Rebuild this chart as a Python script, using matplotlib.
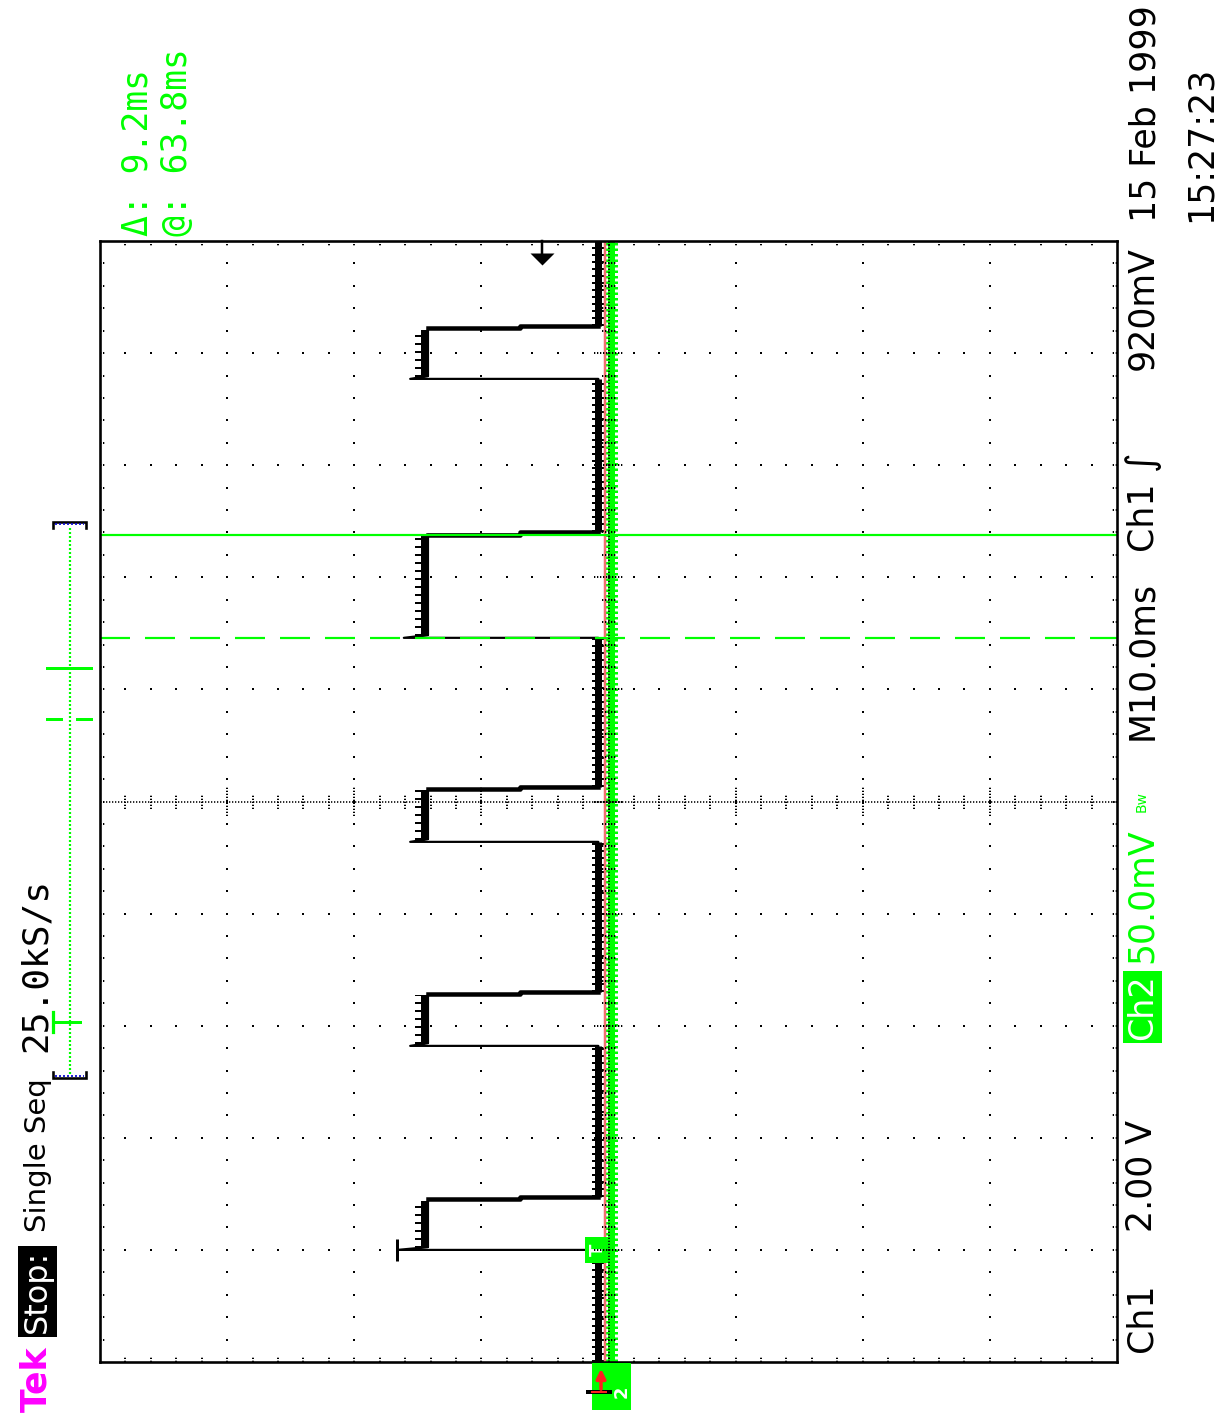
import matplotlib
matplotlib.use('Agg')
import matplotlib.pyplot as plt
import numpy as np
from matplotlib.collections import LineCollection
from matplotlib.patches import Rectangle
from matplotlib.transforms import blended_transform_factory

plt.rcParams['lines.scale_dashes'] = False
plt.rcParams['font.family'] = ['DejaVu Sans', 'DejaVu Sans Mono']

W, H, DPI = 1218, 1420, 100
PX = 72.0 / DPI          # points per pixel

# ---------------- data ----------------
T_START_MS, T_END_MS = -10.0, 90.0        # 10 ms/div, trigger at 1 div
MS_PER_DIV = 10.0
CH1_VOLTS_PER_DIV = 2.0
CH2_MV_PER_DIV = 50.0
CH1_OFFSET_DIV = 0.06
CH2_OFFSET_DIV = -0.02

TRIGGER_MS = 0.0
PULSE_RISE_MS = [0.0, 18.2, 36.4, 54.6, 77.7]
PULSE_FALL_MS = [4.5, 22.8, 41.1, 63.8, 82.2]
PULSE_PEAK_V = [3.2, 3.0, 3.0, 3.1, 3.0]
PULSE_HIGH_V = [2.72, 2.72, 2.72, 2.72, 2.72]
FALL_STEP_V = [1.27, 1.27, 1.27, 1.27, 1.27]
FALL_STEP_MS = 0.2
CH1_BASE_V = 0.04
REF_LEVEL_V = -0.06
CH2_BASE_MV = 0.0
TRIG_LEVEL_V = 0.92
CURSOR_A_MS = 54.6
CURSOR_B_MS = 63.8

LIME = '#00ff00'

fig = plt.figure(figsize=(W / DPI, H / DPI), dpi=DPI)
fig.patch.set_facecolor('white')


def rect(x0, y0, x1, y1):
    return [x0 / W, 1 - y1 / H, (x1 - x0) / W, (y1 - y0) / H]


L, R, T, B = 100, 1117, 241, 1362
NX, NY = 8, 10
px_per_div_x = (R - L) / NX
px_per_div_y = (B - T) / NY

# ---------------- trace axes ----------------
ax2 = fig.add_axes(rect(L, T, R, B), zorder=1)
ax1 = fig.add_axes(rect(L, T, R, B), zorder=2)
for a in (ax1, ax2):
    a.set_facecolor('none')
    a.axis('off')
    a.set_ylim(T_START_MS, T_END_MS)
ax1.set_xlim((NX / 2 - CH1_OFFSET_DIV) * CH1_VOLTS_PER_DIV,
             -(NX / 2 + CH1_OFFSET_DIV) * CH1_VOLTS_PER_DIV)
ax2.set_xlim((NX / 2 - CH2_OFFSET_DIV) * CH2_MV_PER_DIV,
             -(NX / 2 + CH2_OFFSET_DIV) * CH2_MV_PER_DIV)

# channel 2 (green noisy band)
ax2.plot([CH2_BASE_MV, CH2_BASE_MV], [T_START_MS, T_END_MS], color=LIME,
         lw=7 * PX, solid_capstyle='butt')
ax2.plot([CH2_BASE_MV, CH2_BASE_MV], [T_START_MS, T_END_MS], color=LIME,
         lw=14 * PX, linestyle=(0, (2.5 * PX, 3 * PX)), dash_capstyle='butt')

# channel 1 trace
ts, vs = [T_START_MS], [CH1_BASE_V]
for r, f, p, h, m in zip(PULSE_RISE_MS, PULSE_FALL_MS, PULSE_PEAK_V,
                         PULSE_HIGH_V, FALL_STEP_V):
    ts += [r, r, r + 0.25, f, f, f + FALL_STEP_MS, f + FALL_STEP_MS]
    vs += [CH1_BASE_V, p, h, h, m, m, CH1_BASE_V]
ts.append(T_END_MS)
vs.append(CH1_BASE_V)

# baseline band segments
seg_starts = [T_START_MS] + [f + FALL_STEP_MS for f in PULSE_FALL_MS]
seg_ends = list(PULSE_RISE_MS) + [T_END_MS]
for s, e in zip(seg_starts, seg_ends):
    ax1.plot([CH1_BASE_V, CH1_BASE_V], [s, e], color='black', lw=7 * PX,
             solid_capstyle='butt', zorder=2)
    ax1.plot([CH1_BASE_V, CH1_BASE_V], [s, e], color='black', lw=12 * PX,
             linestyle=(0, (2 * PX, 5 * PX)), dash_capstyle='butt', zorder=2)
# reference (red) trace
ax1.plot([REF_LEVEL_V, REF_LEVEL_V], [T_START_MS, T_END_MS], color='#f07070',
         lw=2.5 * PX, zorder=3)
# high band
for r, f, h in zip(PULSE_RISE_MS, PULSE_FALL_MS, PULSE_HIGH_V):
    ax1.plot([h + 0.05, h + 0.05], [r + 0.2, f - 0.1], color='black',
             lw=8 * PX, solid_capstyle='butt', zorder=2)
    ax1.plot([h + 0.1, h + 0.1], [r + 0.2, f - 0.1], color='black',
             lw=14 * PX, linestyle=(0, (2 * PX, 6 * PX)),
             dash_capstyle='butt', zorder=2)
# falling edges (thicker)
for f, h, m in zip(PULSE_FALL_MS, PULSE_HIGH_V, FALL_STEP_V):
    ax1.plot([h, m, m, CH1_BASE_V], [f, f, f + FALL_STEP_MS, f + FALL_STEP_MS],
             color='black', lw=4.5 * PX, zorder=4)
ax1.plot(vs, ts, color='black', lw=2.2 * PX, zorder=4)

# trigger marker on first pulse peak
ax1.plot([PULSE_PEAK_V[0]], [TRIGGER_MS], marker='|', ms=22 * PX,
         mew=3 * PX, color='black', zorder=5)
# green trigger-point box on baseline
ax1.plot([CH1_BASE_V], [TRIGGER_MS], marker='s', ms=27 * PX, color=LIME,
         mew=0, zorder=6)
ax1.text(CH1_BASE_V, TRIGGER_MS, 'T', color='white', fontsize=13,
         fontweight='bold', rotation=90, ha='center', va='center', zorder=7)

# cursors
ax1.axhline(CURSOR_B_MS, color=LIME, lw=2.2 * PX, zorder=6)
ax1.axhline(CURSOR_A_MS, color=LIME, lw=2.2 * PX,
            linestyle=(0, (30 * PX, 15 * PX)), zorder=6)

# trigger level arrow at top
tr = blended_transform_factory(ax1.transData, ax1.transAxes)
ax1.plot([TRIG_LEVEL_V, TRIG_LEVEL_V], [1.0, 1 - 14 / (B - T)], color='black',
         lw=2.5 * PX, transform=tr, clip_on=False, zorder=6)
ax1.plot([TRIG_LEVEL_V], [1 - 18 / (B - T)], transform=tr, clip_on=False,
         marker=[(-1, 0.5), (1, 0.5), (0, -0.5)], ms=24 * PX, color='black',
         mew=0, zorder=6)

# ---------------- graticule ----------------
axg = fig.add_axes(rect(L, T, R, B), zorder=3)
axg.set_facecolor('none')
axg.set_xlim(0, NX)
axg.set_ylim(0, NY)
axg.set_xticks([])
axg.set_yticks([])
for sp in axg.spines.values():
    sp.set_linewidth(2.6 * PX)
    sp.set_color('black')

dot = dict(ls='none', marker='s', ms=2.2 * PX, mew=0, color='black')
minor_y = np.arange(1, NY * 5) / 5.0
minor_x = np.arange(1, NX * 5) / 5.0
for gx in range(1, NX):
    if gx == NX // 2:
        continue
    axg.plot(np.full_like(minor_y, gx), minor_y, **dot)
for gy in range(1, NY):
    if gy == NY // 2:
        continue
    axg.plot(minor_x, np.full_like(minor_x, gy), **dot)

dotted = (0, (1.3 * PX, 1.7 * PX))
cx, cy = NX / 2, NY / 2
axg.plot([cx, cx], [0, NY], color='black', lw=1.6 * PX, linestyle=dotted)
axg.plot([0, NX], [cy, cy], color='black', lw=1.6 * PX, linestyle=dotted)

segs = []
tx = 7 / px_per_div_x
ty = 7 / px_per_div_y
for i, y in enumerate(minor_y):
    big = (i + 1) % 5 == 0
    k = 2.1 if big else 1.0
    segs.append([(cx - tx * k, y), (cx + tx * k, y)])
    segs.append([(0, y), (tx * 0.8, y)])
    segs.append([(NX, y), (NX - tx * 0.8, y)])
for i, x in enumerate(minor_x):
    big = (i + 1) % 5 == 0
    k = 2.1 if big else 1.0
    segs.append([(x, cy - ty * k), (x, cy + ty * k)])
    segs.append([(x, 0), (x, ty * 0.8)])
    segs.append([(x, NY), (x, NY - ty * 0.8)])
axg.add_collection(LineCollection(segs, colors='black', linewidths=2 * PX,
                                  linestyles=[dotted]))

# ---------------- record view (left bar) ----------------
axr = fig.add_axes(rect(40, 522, 100, 1078), zorder=2)
axr.set_facecolor('none')
axr.axis('off')
axr.set_xlim(40, 100)
axr.set_ylim(T_START_MS, T_END_MS)
ms_per_px = (T_END_MS - T_START_MS) / (1078 - 522)
axr.plot([70, 70], [T_START_MS + 4 * ms_per_px, T_END_MS - 4 * ms_per_px],
         color=LIME, lw=2.2 * PX, linestyle=(0, (2 * PX, 2 * PX)))
for edge, sgn in ((T_END_MS, -1), (T_START_MS, 1)):
    e2 = edge + sgn * 6 * ms_per_px
    axr.plot([53, 53, 86, 86], [e2, edge, edge, e2], color='black',
             lw=2.6 * PX, clip_on=False, solid_joinstyle='miter')
    axr.plot([55, 84], [edge + sgn * 2 * ms_per_px] * 2, color='#1010d0',
             lw=1.8 * PX, linestyle=(0, (2 * PX, 2 * PX)), clip_on=False)
# trigger "T" in record view
axr.plot([53, 53], [TRIGGER_MS - 10 * ms_per_px, TRIGGER_MS + 10 * ms_per_px],
         color=LIME, lw=3.2 * PX)
axr.plot([53, 80], [TRIGGER_MS, TRIGGER_MS], color=LIME, lw=3 * PX)
# cursor ticks in record view
axr.plot([47, 91], [CURSOR_B_MS, CURSOR_B_MS], color=LIME, lw=3 * PX)
axr.plot([47, 61], [CURSOR_A_MS, CURSOR_A_MS], color=LIME, lw=3 * PX)
axr.plot([77, 91], [CURSOR_A_MS, CURSOR_A_MS], color=LIME, lw=3 * PX)

# ---------------- pixel overlay: ground markers ----------------
axp = fig.add_axes([0, 0, 1, 1], zorder=5)
axp.set_facecolor('none')
axp.axis('off')
axp.set_xlim(0, W)
axp.set_ylim(H, 0)
axp.add_patch(Rectangle((592, 1363), 39, 47, facecolor=LIME, edgecolor='none'))
axp.annotate('', xy=(601, 1366), xytext=(601, 1392),
             arrowprops=dict(arrowstyle='-|>', color='#ff2020', lw=2.5,
                             mutation_scale=14))
axp.plot([588, 610], [1392, 1392], color='black', lw=4 * PX)
axp.plot([592, 606], [1392, 1392], color='#ff2020', lw=2 * PX)
axp.text(622, 1392, '2', color='white', fontsize=13, fontweight='bold',
         rotation=90, ha='center', va='center')


# ---------------- text ----------------
def txt(xb, ys, s, color='black', size=25, **kw):
    fig.text(xb / W, 1 - ys / H, s, rotation=90, rotation_mode='anchor',
             ha='left', va='baseline', color=color, fontsize=size, **kw)


MONO = ['DejaVu Sans Mono', 'DejaVu Sans']
txt(46, 1412, 'Tek', color='#ff00ff', size=25, fontweight='bold')
txt(46, 1333, 'Stop:', color='white', size=23,
    bbox=dict(boxstyle='square,pad=0.12', fc='black', ec='none'))
txt(46, 1232, 'Single Seq', size=21)
txt(46, 1052, '25.0kS/s', size=26, family=MONO)

txt(147, 236, 'Δ: 9.2ms', color=LIME, size=25, family=MONO)
txt(187, 236, '@: 63.8ms', color=LIME, size=25, family=MONO)

txt(1152, 1352, 'Ch1', size=25)
txt(1152, 1232, '2.00 V', size=25)
txt(1152, 1040, 'Ch2', color='white', size=24,
    bbox=dict(boxstyle='square,pad=0.1', fc=LIME, ec='none'))
txt(1152, 963, '50.0mV', color=LIME, size=25)
txt(1146, 812, 'Bw', color=LIME, size=10)
txt(1152, 740, 'M10.0ms', size=25)
txt(1152, 550, 'Ch1', size=25)
txt(1152, 470, '∫', size=27)
txt(1152, 370, '920mV', size=25)

txt(1156, 222, '15 Feb 1999', size=25)
txt(1211, 222, '15:27:23', size=25)

fig.savefig('out.png', dpi=DPI, facecolor='white')
